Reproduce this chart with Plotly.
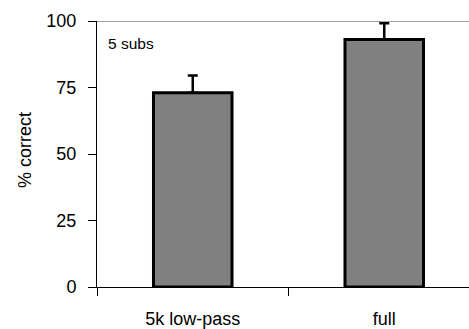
import plotly.graph_objects as go

categories = ["5k low-pass", "full"]
values = [73, 93]
errors_up = [6.5, 6.2]
y_ticks = [0, 25, 50, 75, 100]

W, H = 469, 329
left, top, bottom = 97, 21, 40
plot_w = W - left
cat_px = 191.5
x_max = -0.5 + plot_w / cat_px

font = "Arial, Liberation Sans, sans-serif"

fig = go.Figure()
fig.add_trace(go.Bar(
    x=categories,
    y=values,
    width=0.41,
    marker=dict(color="#808080", line=dict(color="black", width=3)),
    error_y=dict(type="data", symmetric=False, array=errors_up,
                 arrayminus=[0] * len(values), color="black",
                 thickness=2.5, width=5),
))

fig.add_shape(type="line", xref="paper", x0=0, x1=1, yref="y", y0=100, y1=100,
              line=dict(color="#808080", width=1.5), layer="below")

fig.add_annotation(text="5 subs", xref="paper", yref="paper",
                   x=(106 - left) / plot_w, y=(H - bottom - 44) / (H - top - bottom),
                   xanchor="left", yanchor="middle", showarrow=False,
                   font=dict(family=font, size=15.5, color="black"))

fig.add_annotation(text="% correct", xref="paper", yref="paper",
                   x=(25 - left) / plot_w, y=(H - bottom - 151) / (H - top - bottom),
                   xanchor="center", yanchor="middle", textangle=-90, showarrow=False,
                   font=dict(family=font, size=18, color="black"))

fig.update_layout(
    width=W, height=H,
    margin=dict(l=left, r=0, t=top, b=bottom, pad=0),
    plot_bgcolor="white", paper_bgcolor="white",
    showlegend=False,
    font=dict(family=font, size=18, color="black"),
    xaxis=dict(type="category", range=[-0.5, x_max], tickson="boundaries",
               ticks="outside", ticklen=8, tickcolor="black", tickwidth=1,
               showline=True, linecolor="black", linewidth=1,
               showgrid=False, zeroline=False,
               tickfont=dict(family=font, size=18), ticklabelstandoff=15),
    yaxis=dict(range=[0, 100], tickvals=y_ticks, ticks="outside", ticklen=8,
               tickcolor="black", tickwidth=1, showline=True, linecolor="black",
               linewidth=1, showgrid=False, zeroline=False,
               tickfont=dict(family=font, size=18), ticklabelstandoff=8),
)

fig.write_html("out.html")
